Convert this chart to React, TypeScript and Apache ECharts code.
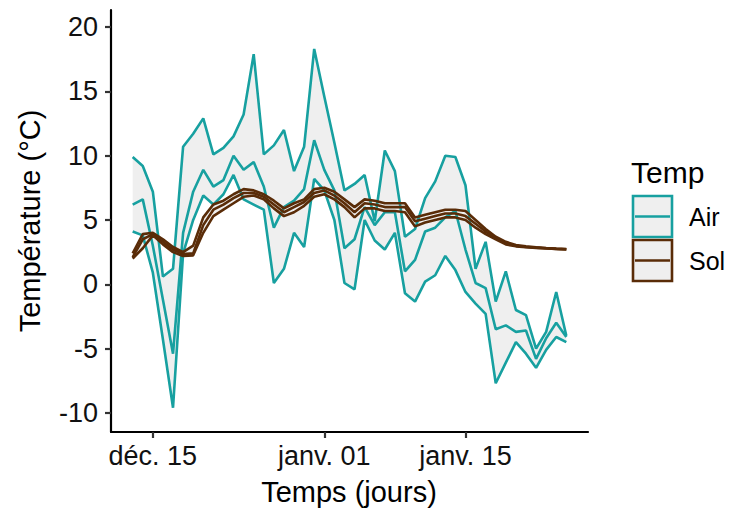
import React, { useEffect, useRef } from "react";
import * as echarts from "echarts";

const dates = [
  "2023-12-13", "2023-12-14", "2023-12-15", "2023-12-16", "2023-12-17", "2023-12-18",
  "2023-12-19", "2023-12-20", "2023-12-21", "2023-12-22", "2023-12-23", "2023-12-24",
  "2023-12-25", "2023-12-26", "2023-12-27", "2023-12-28", "2023-12-29", "2023-12-30",
  "2023-12-31", "2024-01-01", "2024-01-02", "2024-01-03", "2024-01-04", "2024-01-05",
  "2024-01-06", "2024-01-07", "2024-01-08", "2024-01-09", "2024-01-10", "2024-01-11",
  "2024-01-12", "2024-01-13", "2024-01-14", "2024-01-15", "2024-01-16", "2024-01-17",
  "2024-01-18", "2024-01-19", "2024-01-20", "2024-01-21", "2024-01-22", "2024-01-23",
  "2024-01-24", "2024-01-25",
];

const airHigh = [
  9.9, 9.2, 7.2, 0.6, 1.2, 10.7, 11.7, 12.9, 10.1, 10.6, 11.5, 13.2, 17.9, 10.1, 10.8,
  12.0, 8.8, 10.7, 18.3, 14.6, 11.0, 7.3, 7.8, 8.5, 4.9, 10.4, 8.8, 3.7, 4.3, 6.7,
  8.0, 10.0, 9.9, 7.7, 1.2, 3.3, -1.35, 1.0, -2.0, -2.4, -5.0, -3.7, -0.6, -4.0,
];
const airMid = [
  6.2, 6.6, 3.0, -1.2, -5.4, 4.0, 7.2, 8.9, 7.6, 8.1, 10.0, 8.9, 9.5, 7.6, 4.4,
  6.0, 6.5, 7.4, 11.2, 8.9, 7.3, 2.8, 3.5, 6.0, 4.6, 5.6, 5.6, 1.0, 1.9, 4.1,
  4.4, 5.2, 5.7, 2.7, 0.1, -0.3, -3.5, -3.2, -3.7, -3.6, -5.8, -4.2, -3.0, -4.1,
];
const airLow = [
  4.1, 3.8, 0.9, -4.3, -9.6, 2.4, 5.0, 6.9, 6.2, 7.0, 8.5, 6.6, 6.2, 5.8, 0.1,
  1.2, 4.0, 2.9, 8.2, 7.3, 5.0, 0.1, -0.4, 5.0, 3.4, 2.7, 4.0, -0.7, -1.35, 0.2,
  0.7, 2.2, 1.1, -0.6, -1.5, -2.3, -7.7, -6.1, -4.5, -5.4, -6.5, -5.1, -4.1, -4.5,
];

const solHigh = [
  2.4, 3.9, 4.0, 3.5, 2.9, 2.5, 3.0, 5.2, 6.2, 6.5, 7.0, 7.4, 7.3, 7.0, 6.5,
  5.9, 6.3, 6.6, 7.4, 7.5, 7.2, 6.6, 6.0, 6.6, 6.5, 6.3, 6.3, 6.3, 5.2, 5.4,
  5.6, 5.8, 5.8, 5.7, 5.0, 4.3, 3.7, 3.3, 3.05, 2.95, 2.88, 2.82, 2.77, 2.74,
];
const solMid = [
  2.1, 3.5, 3.9, 3.3, 2.7, 2.35, 2.4, 4.6, 5.8, 6.2, 6.7, 7.1, 7.1, 6.8, 6.2,
  5.6, 6.0, 6.4, 7.1, 7.3, 6.9, 6.3, 5.6, 6.3, 6.2, 6.0, 6.0, 6.0, 4.9, 5.1,
  5.3, 5.5, 5.5, 5.3, 4.7, 4.1, 3.6, 3.2, 3.0, 2.9, 2.85, 2.8, 2.75, 2.72,
];
const solLow = [
  2.0, 2.8, 3.8, 3.1, 2.5, 2.2, 2.25, 4.0, 5.3, 5.8, 6.3, 6.8, 6.9, 6.6, 5.9,
  5.3, 5.6, 6.1, 6.8, 7.0, 6.6, 6.0, 5.2, 5.9, 5.9, 5.7, 5.7, 5.6, 4.5, 4.8,
  5.0, 5.2, 5.2, 5.0, 4.4, 3.9, 3.5, 3.1, 2.95, 2.88, 2.83, 2.78, 2.74, 2.71,
];

const xTickDates = ["2023-12-15", "2024-01-01", "2024-01-15"];
const xTickLabels = ["déc. 15", "janv. 01", "janv. 15"];
const yTicks = [-10, -5, 0, 5, 10, 15, 20];
const legendLabels = ["Air", "Sol"];

const AIR = "#17a0a0";
const SOL = "#5a2c08";
const RIBBON = "#efefef";
const FONT = "Liberation Sans, Arial, sans-serif";

const DAY = 86400000;
const t0 = Date.parse(dates[0]);
const dayOf = (d: string) => Math.round((Date.parse(d) - t0) / DAY);

export default function App() {
  const ref = useRef<HTMLDivElement>(null);
  useEffect(() => {
    if (!ref.current) return;
    document.body.style.margin = "0";
    const chart = echarts.init(ref.current, null, { renderer: "svg" });
    const xs = dates.map(dayOf);
    const lastX = xs[xs.length - 1];
    const pad = lastX * 0.05;
    const tickXs = xTickDates.map(dayOf);

    const ribbon = (name: string, series: number[][], z: number) => {
      const lo = xs.map((_, i) => Math.min(...series.map((s) => s[i])));
      const hi = xs.map((_, i) => Math.max(...series.map((s) => s[i])));
      return {
        type: "custom",
        name,
        z,
        silent: true,
        data: xs.map((x, i) => [x, lo[i], hi[i]]),
        encode: { x: 0, y: [1, 2] },
        renderItem: (params: any, api: any) => {
          if (params.dataIndex !== 0) return null;
          const pts: number[][] = [];
          for (let i = 0; i < xs.length; i++) pts.push(api.coord([xs[i], hi[i]]));
          for (let i = xs.length - 1; i >= 0; i--) pts.push(api.coord([xs[i], lo[i]]));
          return { type: "polygon", shape: { points: pts }, style: { fill: RIBBON, stroke: "none" } };
        },
      };
    };

    const line = (name: string, vals: number[], color: string, z: number) => ({
      type: "line",
      name,
      z,
      data: xs.map((x, i) => [x, vals[i]]),
      symbol: "none",
      lineStyle: { color, width: 2.6 },
      silent: true,
    });

    const keyX = 633;
    const keyW = 39;
    const keyH = 41;
    const keyYs = [196, 240];
    const keyColors = [AIR, SOL];

    const graphics: any[] = [
      {
        type: "text",
        x: 30,
        y: 221,
        rotation: Math.PI / 2,
        style: {
          text: "Température (°C)",
          font: `29px ${FONT}`,
          fill: "#000",
          textAlign: "center",
          textVerticalAlign: "middle",
        },
      },
      {
        type: "text",
        x: 349,
        y: 492,
        style: {
          text: "Temps (jours)",
          font: `29px ${FONT}`,
          fill: "#000",
          textAlign: "center",
          textVerticalAlign: "middle",
        },
      },
      {
        type: "text",
        x: 631,
        y: 172,
        style: {
          text: "Temp",
          font: `30px ${FONT}`,
          fill: "#000",
          textAlign: "left",
          textVerticalAlign: "middle",
        },
      },
    ];
    legendLabels.forEach((lab, k) => {
      graphics.push({
        type: "rect",
        shape: { x: keyX, y: keyYs[k], width: keyW, height: keyH },
        style: { fill: RIBBON, stroke: keyColors[k], lineWidth: 2.6 },
      });
      graphics.push({
        type: "line",
        shape: { x1: keyX + 2, y1: keyYs[k] + keyH / 2, x2: keyX + keyW - 2, y2: keyYs[k] + keyH / 2 },
        style: { stroke: keyColors[k], lineWidth: 2.6 },
      });
      graphics.push({
        type: "text",
        x: 689,
        y: keyYs[k] + keyH / 2,
        style: {
          text: lab,
          font: `25px ${FONT}`,
          fill: "#000",
          textAlign: "left",
          textVerticalAlign: "middle",
        },
      });
    });

    chart.setOption({
      animation: false,
      backgroundColor: "#fff",
      grid: { left: 111, right: 141, top: 10, bottom: 82, containLabel: false },
      xAxis: {
        type: "value",
        min: -pad,
        max: lastX + pad,
        splitLine: { show: false },
        axisLine: { show: true, onZero: false, lineStyle: { color: "#000", width: 2.2 } },
        axisTick: { show: true, length: 6, customValues: tickXs, lineStyle: { color: "#333", width: 2.2 } },
        axisLabel: {
          customValues: tickXs,
          formatter: (v: number) => {
            const k = tickXs.indexOf(Math.round(v));
            return k >= 0 ? xTickLabels[k] : "";
          },
          color: "#111",
          fontSize: 27,
          fontFamily: FONT,
          margin: 10,
        },
      },
      yAxis: {
        type: "value",
        min: -11.49,
        max: 21.33,
        splitLine: { show: false },
        axisLine: { show: true, onZero: false, lineStyle: { color: "#000", width: 2.2 } },
        axisTick: { show: true, length: 6, customValues: yTicks, lineStyle: { color: "#333", width: 2.2 } },
        axisLabel: {
          customValues: yTicks,
          color: "#111",
          fontSize: 27,
          fontFamily: FONT,
          margin: 13,
        },
      },
      graphic: graphics,
      series: [
        ribbon("AirRibbon", [airHigh, airMid, airLow], 1),
        ribbon("SolRibbon", [solHigh, solMid, solLow], 2),
        line("Air1", airHigh, AIR, 3),
        line("Air2", airMid, AIR, 3),
        line("Air3", airLow, AIR, 3),
        line("Sol1", solHigh, SOL, 4),
        line("Sol2", solMid, SOL, 4),
        line("Sol3", solLow, SOL, 4),
      ],
    });
    return () => chart.dispose();
  }, []);
  return <div ref={ref} style={{ width: 729, height: 514 }} />;
}
